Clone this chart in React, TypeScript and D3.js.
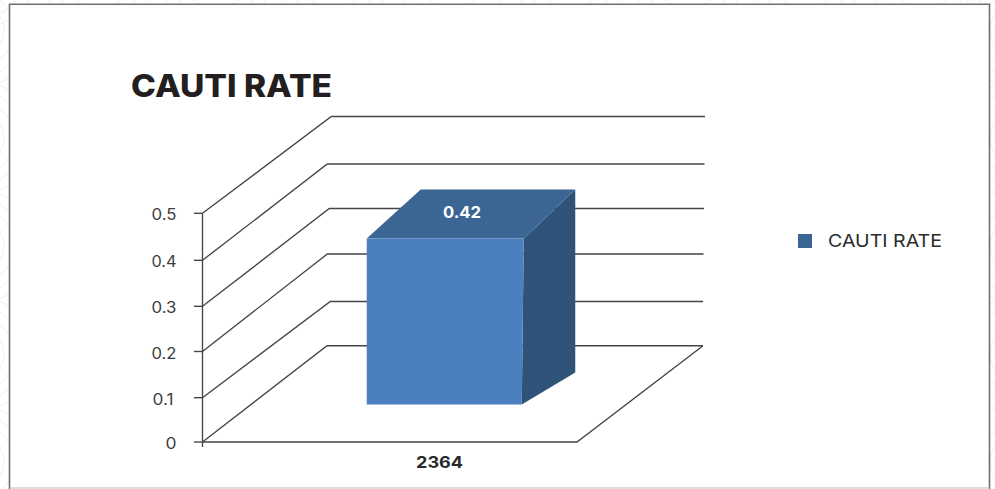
import React from "react";
import * as d3 from "d3";

// Chart values
const chartTitle = "CAUTI RATE";
const categories = ["2364"];
const seriesName = "CAUTI RATE";
const seriesValues = [0.42];
const valueTicks = [0, 0.1, 0.2, 0.3, 0.4, 0.5];
const tickLabels = ["0", "0.1", "0.2", "0.3", "0.4", "0.5"];

const FONT = "Inter, 'Noto Sans', sans-serif";
const INK = "#3d3d3d";
const GRID = "#444444";
const FRONT = "#4c7fbf";
const TOP = "#3b6693";
const SIDE = "#2f5279";

const W = 995;
const H = 489;

// Oblique projection of the 3D plot box: front edge of the walls and the back wall
const frontY = d3.scaleLinear().domain(valueTicks).range([442, 397.7, 351.5, 306.3, 260.3, 213.3]);
const backY = d3.scaleLinear().domain(valueTicks).range([345.7, 301.5, 254, 208.5, 164, 116.5]);
const backX = d3.scaleLinear().domain(valueTicks).range([327, 330.3, 327.3, 329.3, 327.3, 331.3]);
const backRight = d3.scaleLinear().domain([0, 0.1, 0.5]).range([703, 703, 705]);

const AXIS_X = 202.5;
const FLOOR_RIGHT = 577;

const catX = d3.scaleBand<string>().domain(categories).range([AXIS_X, FLOOR_RIGHT]).paddingInner(0).paddingOuter(0.7);

// The column stands inside the box, so it gets its own vertical scale
const barY = d3.scaleLinear().domain([0, 0.42]).range([404.5, 238.5]);
const BAR_SHIFT = 55;

const line = d3.line<[number, number]>();

// Wide geometric numerals: stretch each tick label to its set width
const tickLabelWidth = (label: string) => (label.length === 1 ? 11 : label.endsWith("1") ? 21 : 25);
const tickLabelEnd = (label: string) => (label.endsWith("1") ? 173.5 : 176.5);

// Faint concentric arcs of the page backdrop around the card
const backdropCentres = [
  ...d3.range(-20, 1040, 118).map((x) => [x, -30] as [number, number]),
  ...d3.range(30, 520, 108).map((y) => [-24, y] as [number, number]),
  ...d3.range(30, 520, 108).map((y) => [1018, y] as [number, number]),
];
const backdropRadii = [18, 28, 38, 48, 58];

export default function App() {
  const value = seriesValues[0];
  const cat = categories[0];
  const left = (catX(cat) as number) + BAR_SHIFT;
  const right = left + catX.bandwidth() + 1;
  const top = barY(value);
  const bottom = barY(0);

  const frontFace: [number, number][] = [[left, top], [right, top], [right - 2, bottom], [left, bottom]];
  const topFace: [number, number][] = [[left, top], [left + 54, top - 49], [right + 51.5, top - 49], [right, top]];
  const sideFace: [number, number][] = [[right, top], [right + 51.5, top - 49], [right + 51.5, bottom - 32], [right - 2, bottom]];

  return (
    <svg
      width={W}
      height={H}
      viewBox={`0 0 ${W} ${H}`}
      style={{ position: "fixed", left: 0, top: 0, display: "block", background: "#fff" }}
    >
      <g fill="none" stroke="#eef2ef" strokeWidth={1}>
        {backdropCentres.map(([cx, cy], i) =>
          backdropRadii.map((r) => <circle key={`${i}-${r}`} cx={cx} cy={cy} r={r} />)
        )}
      </g>

      {/* Card */}
      <path d="M9.5 488 V4.2 H989.5 V488" fill="#fff" stroke="none" />
      <path d="M9.5 489 V4.2 H989.5 V489" fill="none" stroke="#6e6e6e" strokeWidth={1.6} />
      <line x1={9.5} x2={989.5} y1={488} y2={488} stroke="#bdbdbd" strokeWidth={1} />

      <text
        x={131}
        y={96.7}
        fontFamily={FONT}
        fontSize={31}
        fontWeight={800}
        fill="#231f20"
        textLength={201}
        lengthAdjust="spacingAndGlyphs"
      >
        {chartTitle}
      </text>

      {/* Walls and floor */}
      <g fill="none" stroke={GRID} strokeWidth={1.35}>
        {valueTicks.map((t) => (
          <path
            key={t}
            d={
              line([
                [AXIS_X, frontY(t)],
                [backX(t), backY(t)],
                [backRight(t), backY(t)],
              ]) as string
            }
          />
        ))}
        <path d={line([[AXIS_X, frontY(0)], [FLOOR_RIGHT, frontY(0)], [backRight(0), backY(0)]]) as string} />
        <path d={line([[AXIS_X, frontY(0.5)], [AXIS_X, frontY(0) + 5]]) as string} />
        {valueTicks.map((t) => (
          <path key={`tick-${t}`} d={line([[194, frontY(t)], [AXIS_X, frontY(t)]]) as string} />
        ))}
      </g>

      {/* Value axis labels */}
      {valueTicks.map((t, i) => (
        <text
          key={`label-${t}`}
          x={tickLabelEnd(tickLabels[i]) - tickLabelWidth(tickLabels[i])}
          y={frontY(t) + 7}
          fontFamily={FONT}
          fontSize={15.5}
          fill={INK}
          textLength={tickLabelWidth(tickLabels[i])}
          lengthAdjust="spacingAndGlyphs"
        >
          {tickLabels[i]}
        </text>
      ))}

      {/* Column */}
      <path d={`${line(sideFace)}Z`} fill={SIDE} />
      <path d={`${line(topFace)}Z`} fill={TOP} />
      <path d={`${line(frontFace)}Z`} fill={FRONT} />

      <text
        x={443}
        y={217.5}
        fontFamily={FONT}
        fontSize={16}
        fontWeight={700}
        fill="#fff"
        textLength={38}
        lengthAdjust="spacingAndGlyphs"
      >
        {d3.format(".2f")(value)}
      </text>

      <text
        x={416}
        y={468}
        fontFamily={FONT}
        fontSize={16}
        fontWeight={700}
        fill="#2b2b2b"
        textLength={47}
        lengthAdjust="spacingAndGlyphs"
      >
        {cat}
      </text>

      {/* Legend */}
      <rect x={798} y={234} width={14} height={14} fill={TOP} />
      <text
        x={828}
        y={247}
        fontFamily={FONT}
        fontSize={17.5}
        fill="#2b2b2b"
        textLength={114}
        lengthAdjust="spacingAndGlyphs"
      >
        {seriesName}
      </text>
    </svg>
  );
}
